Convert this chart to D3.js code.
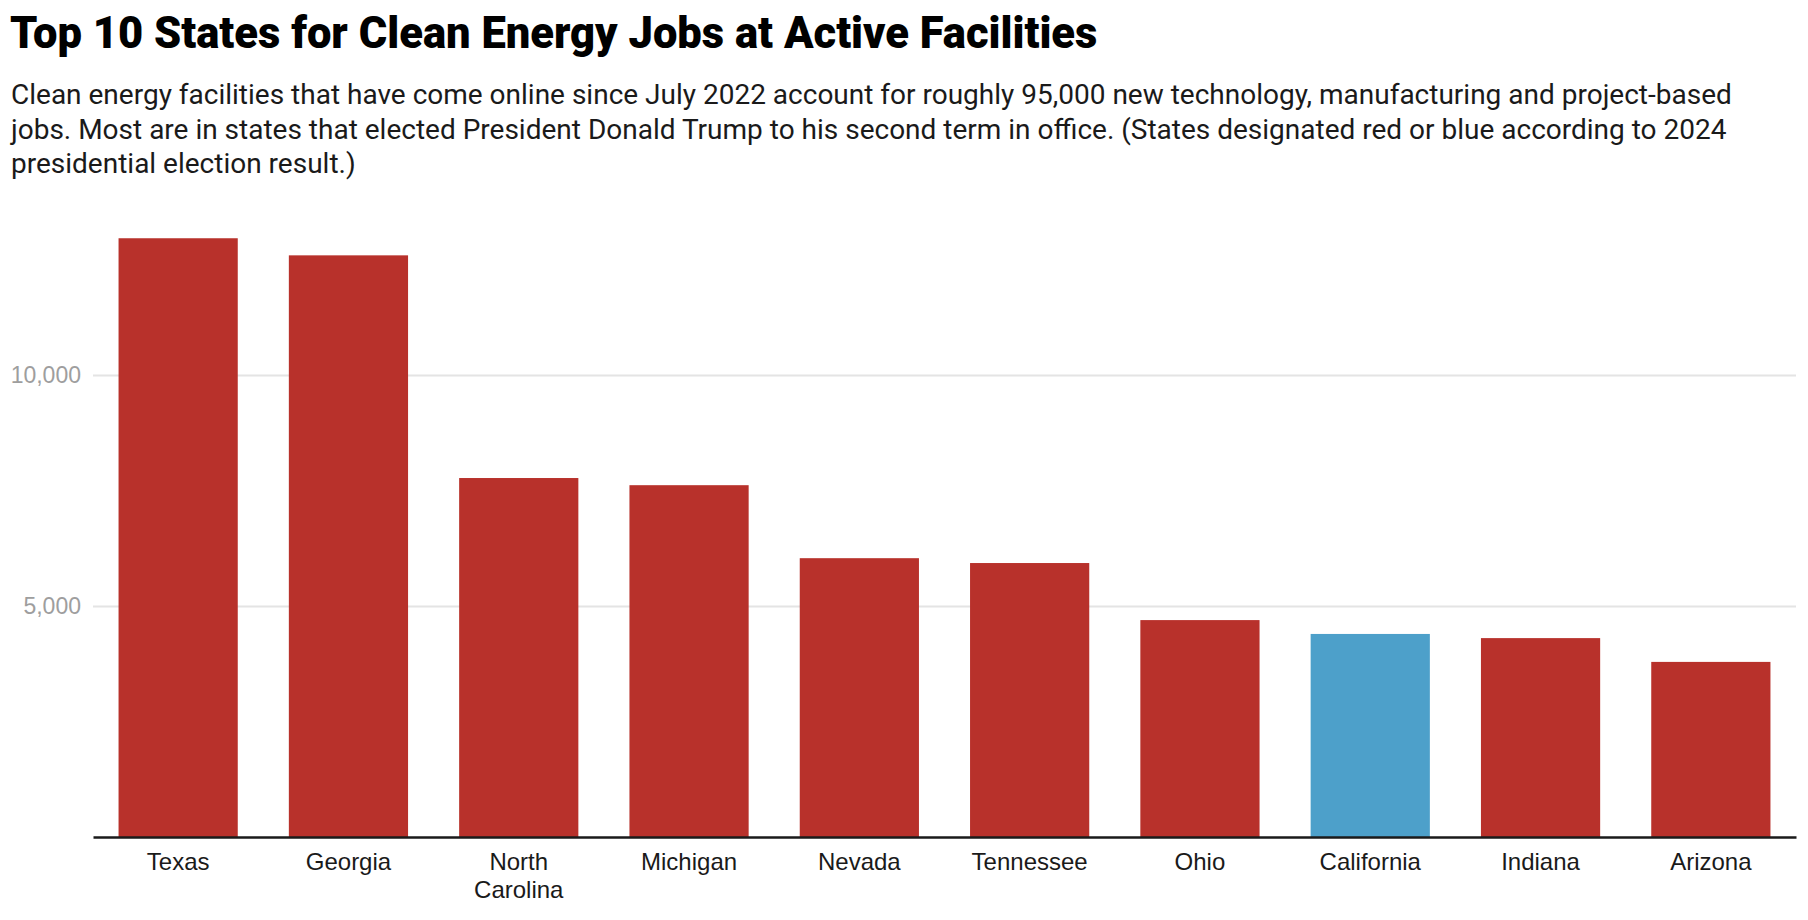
<!DOCTYPE html>
<html>
<head>
    <title>Top 10 States for Clean Energy Jobs</title>
    <script src="https://d3js.org/d3.v7.min.js"></script>
    <style>
        body { margin: 0; background: #fff; font-family: Roboto, "Noto Sans", Arial, sans-serif; }
        .title { font-size: 43.5px; font-weight: 900; fill: #000; }
        .subtitle { font-size: 28px; fill: #1a1a1a; }
        .grid line { stroke: #e4e4e4; stroke-width: 2px; }
        .grid text { fill: #9e9e9e; font-size: 23px; }
        .xaxis text { fill: #1a1a1a; font-size: 24px; }
    </style>
</head>
<body>
    <div id="chart"></div>

    <script>
        // jobs at active clean energy facilities
        const states = ["Texas", "Georgia", "North Carolina", "Michigan", "Nevada",
                        "Tennessee", "Ohio", "California", "Indiana", "Arizona"];
        const jobs = [12960, 12590, 7770, 7615, 6035, 5930, 4695, 4395, 4305, 3790];
        const party = ["red", "red", "red", "red", "red", "red", "red", "blue", "red", "red"];
        const yTicks = [5000, 10000];

        const subtitleLines = [
            "Clean energy facilities that have come online since July 2022 account for roughly 95,000 new technology, manufacturing and project-based",
            "jobs. Most are in states that elected President Donald Trump to his second term in office. (States designated red or blue according to 2024",
            "presidential election result.)"
        ];

        const width = 1808;
        const height = 920;
        const margin = { top: 236, right: 12, bottom: 83, left: 93 };

        const colors = { red: "#b8312b", blue: "#4da0ca" };

        const svg = d3.select("#chart")
            .append("svg")
            .attr("width", width)
            .attr("height", height);

        svg.append("text")
            .attr("class", "title")
            .attr("x", 10)
            .attr("y", 48)
            .text("Top 10 States for Clean Energy Jobs at Active Facilities");

        svg.append("text")
            .attr("class", "subtitle")
            .selectAll("tspan")
            .data(subtitleLines)
            .enter().append("tspan")
            .attr("x", 11)
            .attr("y", (d, i) => 104 + i * 34.6)
            .text(d => d);

        const x = d3.scaleBand()
            .domain(states)
            .range([margin.left, width - margin.right])
            .paddingInner(0.3)
            .paddingOuter(0.15);

        const y = d3.scaleLinear()
            .domain([0, 13000])
            .range([height - margin.bottom, height - margin.bottom - 13000 * 0.0462]);

        // gridlines + tick labels
        const grid = svg.append("g")
            .attr("class", "grid")
            .attr("transform", `translate(${margin.left},0)`)
            .call(d3.axisLeft(y)
                .tickValues(yTicks)
                .tickFormat(d3.format(","))
                .tickSize(-(width - margin.left - margin.right))
                .tickPadding(12));
        grid.select(".domain").remove();

        svg.append("g")
            .selectAll("rect")
            .data(states)
            .enter().append("rect")
            .attr("x", d => x(d))
            .attr("width", x.bandwidth())
            .attr("y", (d, i) => y(jobs[i]))
            .attr("height", (d, i) => y(0) - y(jobs[i]))
            .attr("fill", (d, i) => colors[party[i]]);

        const xAxis = svg.append("g")
            .attr("class", "xaxis")
            .attr("transform", `translate(0,${y(0)})`)
            .call(d3.axisBottom(x).tickSize(0).tickPadding(16));
        xAxis.select(".domain")
            .attr("stroke", "#1a1a1a")
            .attr("stroke-width", 2.5);

        // wrap long state names onto two lines
        xAxis.selectAll(".tick text").each(function (d) {
            const t = d3.select(this);
            if (this.getComputedTextLength() <= x.bandwidth()) return;
            const words = d.split(" ");
            t.text(null);
            words.forEach((w, i) => {
                t.append("tspan")
                    .attr("x", 0)
                    .attr("dy", i === 0 ? "0.71em" : "1.15em")
                    .text(w);
            });
        });
    </script>
</body>
</html>
